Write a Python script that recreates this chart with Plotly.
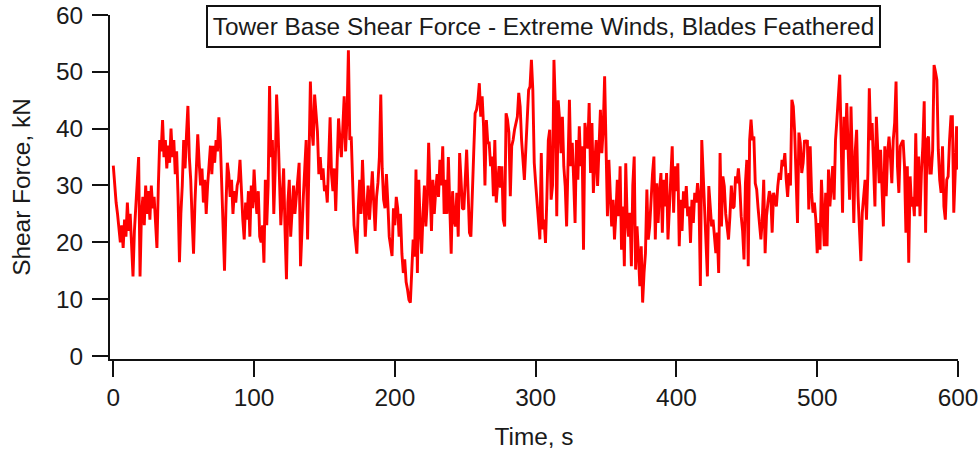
import plotly.graph_objects as go

# Time in seconds (1 s sampling)
time_s = list(range(0, 601))

# Tower base shear force, kN
force_kN = [
    33.5, 30, 27, 25, 22, 20, 23, 19, 24, 21,
    27, 22, 25, 20, 14, 22, 26, 30, 35, 14,
    25, 28, 23, 30, 25, 29, 24, 30, 26, 28,
    24, 19, 30, 38, 36, 41.5, 35, 38, 33, 37,
    34, 40, 35, 38, 32, 36, 28, 16.5, 25, 30,
    38, 33, 39, 44, 35, 31, 24, 18, 27, 33,
    39, 34, 30, 33, 27, 31, 25, 30, 34, 37,
    32, 37, 34, 38, 36, 42, 38, 30, 22, 15,
    26, 34, 32, 28, 31, 25, 29, 27, 30, 31,
    34.5, 28, 24, 20.5, 27, 24, 29, 21, 30, 26,
    32.8, 28, 25, 29, 21, 20, 23, 16.4, 31, 23,
    30, 47.5, 35, 38, 25, 33, 46, 40, 30, 23,
    28, 33, 22, 13.5, 27, 31, 21, 27, 30, 25,
    28, 30, 34, 15.8, 24, 28, 33, 38, 20.5, 36,
    48.3, 40, 37, 46, 43, 39.5, 32, 35, 31, 33,
    29, 30, 27, 36, 42, 32, 29, 33, 25.5, 34,
    41.8, 38, 35, 40, 45.7, 36, 42, 53.8, 38, 38.6,
    29, 23, 20.5, 18, 26, 31, 25, 34.5, 28, 21,
    26, 30, 24, 29, 32.5, 27, 22, 28, 30.5, 35,
    46, 33, 27.5, 26, 32, 27, 21, 19.3, 17.6, 26,
    23, 28, 26, 21, 25, 18, 14.6, 17, 13, 11.7,
    9.9, 9.4, 14, 20.5, 17.5, 32.8, 14.6, 31, 22.8, 18,
    25, 30, 22.8, 27, 37.5, 29, 22, 31, 25, 29,
    32, 28, 34.5, 30, 36.9, 25, 31, 25, 35, 26.5,
    18, 29, 24, 22.8, 28.7, 21, 35.7, 31, 26, 25.8,
    31.6, 36.3, 29, 21.7, 21, 30, 35.7, 42.7, 43.3, 45,
    48, 42.1, 45.7, 40.4, 30, 41.5, 37.5, 37.5, 33.4, 35.1,
    28.1, 38, 27, 30.4, 33.4, 29.6, 33.4, 24, 22.8, 42.7,
    41.6, 39.3, 28.1, 36.9, 38, 39.8, 41, 42.1, 46.3, 43.9,
    38, 33.4, 31, 36.3, 42, 46.8, 47.4, 52.1, 46.8, 34,
    30.4, 27.5, 24.6, 20.5, 35.7, 22.3, 24, 19.9, 28, 38,
    39.8, 27.5, 30, 52.1, 43.9, 24.6, 45, 41.6, 35.7, 42.1,
    33.4, 29.9, 22.8, 32.2, 45.1, 33.4, 37.5, 31, 23.4, 38,
    31, 40.4, 33.4, 36.9, 18.7, 41, 38.6, 36.5, 44.5, 32.2,
    41, 28.7, 34, 38, 29.9, 36.9, 43.3, 35.7, 40, 49.2,
    35.1, 24.6, 34.5, 28.1, 22.8, 27.5, 20.5, 25, 31, 24.6,
    33.4, 18.7, 26.3, 15.8, 33.9, 24, 21, 25.2, 15.8, 30,
    35.1, 15.2, 22.8, 18, 12.3, 19.3, 9.4, 14.6, 18.1, 29.3,
    20.5, 22.8, 28.7, 32, 35.1, 20.5, 30.4, 23.4, 29, 32.2,
    21.7, 31, 26.3, 32.2, 20.5, 27, 30.4, 36.9, 25.2, 33.4,
    29, 33.9, 19.3, 27.5, 22, 29, 26, 29.9, 24.6, 26.3,
    19.9, 27.5, 23.4, 28.7, 27, 30.4, 28, 12.3, 38, 32.2,
    27.5, 22, 14, 29.9, 26.3, 22.8, 24, 20.5, 18.1, 21.7,
    14.6, 35.7, 22.8, 31.6, 29.9, 25, 22.8, 20.5, 24.6, 30,
    26, 26.3, 31.6, 30.4, 33, 29.9, 24.6, 22, 17, 30.4,
    34.5, 15.8, 38, 41.6, 38, 38.6, 30.4, 29.3, 26, 22.8,
    20.5, 24, 31, 18.1, 24.6, 27, 29, 28.1, 21.7, 28.7,
    27.5, 26.3, 29.9, 32.2, 31, 34.5, 33.4, 35.7, 31, 28,
    32.2, 30, 45.1, 43.9, 39.3, 30, 23.4, 39.3, 37.5, 32.2,
    34, 38, 37.5, 38, 25.8, 36.9, 28.7, 25.2, 27, 24,
    18.1, 23.4, 18.7, 31, 24, 19.3, 28.7, 19.3, 32.8, 26.3,
    30, 33.4, 27.5, 38, 41.6, 45.1, 49.5, 38, 25.2, 42.1,
    36.3, 44.5, 36.9, 27.5, 43.9, 32.2, 23.4, 36, 39.8, 28.1,
    21.7, 16.7, 25.2, 29, 31, 24, 32.2, 47.1, 38, 41,
    33, 26.3, 42.1, 34.5, 30.4, 36.3, 28, 22.8, 36.9, 28.1,
    35.7, 38.6, 35.1, 30.4, 38, 41, 48.3, 33.4, 28.7, 36.9,
    37.5, 38, 33.4, 21.7, 33.4, 16.4, 31.6, 26.3, 28, 24.6,
    39.2, 26.3, 35.1, 24.6, 32.2, 36.9, 44.8, 21.7, 38, 38.6,
    32.2, 32.2, 36.3, 51.2, 50, 48.6, 36.3, 31, 28.7, 36.9,
    26.3, 24, 31, 31.6, 38, 42.1, 42.1, 25.2, 32, 40.4, 32.8,
]

x_ticks = [0, 100, 200, 300, 400, 500, 600]
y_ticks = [0, 10, 20, 30, 40, 50, 60]

title_text = "Tower Base Shear Force - Extreme Winds, Blades Feathered"
x_title = "Time, s"
y_title = "Shear Force, kN"

FONT = "Liberation Sans, Arial, Helvetica, sans-serif"
FS = 24.4
INK = "#1a1a1a"

fig = go.Figure()
fig.add_trace(go.Scatter(
    x=time_s, y=force_kN, mode="lines",
    line=dict(color="#ff0000", width=2.9),
    showlegend=False, hoverinfo="skip",
))

axis_common = dict(
    showline=True, linecolor="#111111", linewidth=2,
    ticks="outside", tickcolor="#111111", tickwidth=2, ticklen=16,
    showgrid=False, zeroline=False, mirror=False, automargin=False,
    tickfont=dict(family=FONT, size=FS, color=INK),
)

fig.update_layout(
    width=980, height=451,
    margin=dict(l=110, r=22, t=15, b=92, autoexpand=False),
    paper_bgcolor="white", plot_bgcolor="white",
    font=dict(family=FONT, size=FS, color=INK),
    xaxis=dict(
        range=[-2.34, 600], tickvals=x_ticks,
        title=dict(text=x_title, font=dict(family=FONT, size=FS, color=INK), standoff=18),
        **axis_common,
    ),
    yaxis=dict(
        range=[-0.53, 60], tickvals=y_ticks, ticklabelstandoff=4,
        title=dict(text=y_title, font=dict(family=FONT, size=FS, color=INK), standoff=18),
        **axis_common,
    ),
    annotations=[dict(
        text=title_text, xref="paper", yref="paper",
        x=(543.5 - 110) / 848, y=(359 - 26.5) / 344, xanchor="center", yanchor="middle",
        showarrow=False, bgcolor="white",
        bordercolor="#111111", borderwidth=2, borderpad=2,
        width=667, height=35,
        font=dict(family=FONT, size=FS, color=INK),
    )],
)

fig.write_html("out.html")
